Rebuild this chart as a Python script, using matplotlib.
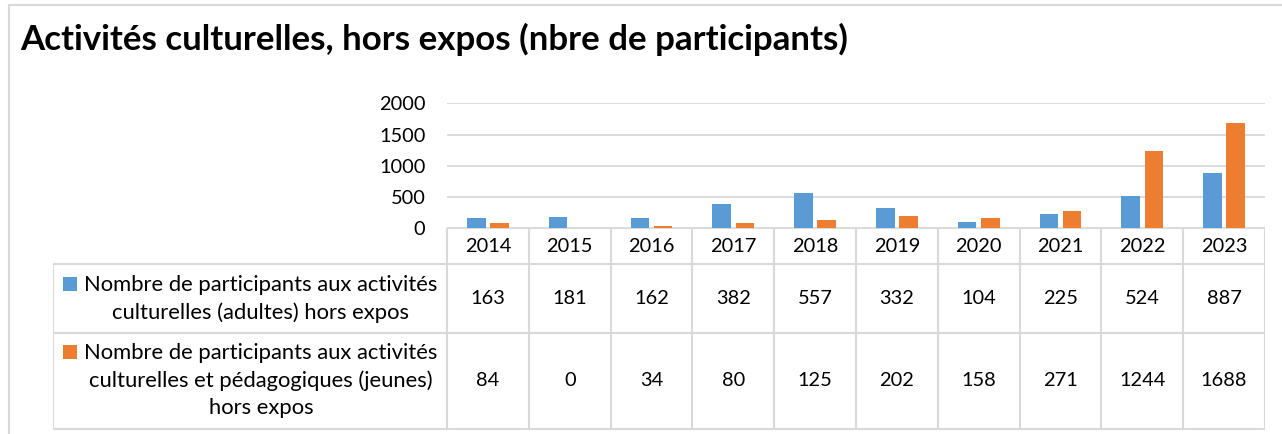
import matplotlib
matplotlib.use("Agg")
import matplotlib.pyplot as plt
from matplotlib.patches import Rectangle
from matplotlib.lines import Line2D

# ---------------- data ----------------
years = ["2014", "2015", "2016", "2017", "2018", "2019", "2020", "2021", "2022", "2023"]
adultes = [163, 181, 162, 382, 557, 332, 104, 225, 524, 887]
jeunes = [84, 0, 34, 80, 125, 202, 158, 271, 1244, 1688]
series_labels = [
    "Nombre de participants aux activités\nculturelles (adultes) hors expos",
    "Nombre de participants aux activités\nculturelles et pédagogiques (jeunes)\nhors expos",
]
title = "Activités culturelles, hors expos (nbre de participants)"
yticks = [0, 500, 1000, 1500, 2000]
colors = ["#5B9BD5", "#ED7D31"]

FONT = "Lato"
GRID = "#D9D9D9"
W, H = 1282, 434

fig = plt.figure(figsize=(W / 100, H / 100), dpi=100)
renderer = fig.canvas.get_renderer()


def fit_size(s, target_px, weight="normal"):
    t = fig.text(0, 0, s, fontsize=10, family=FONT, weight=weight)
    w = t.get_window_extent(renderer).width
    t.remove()
    return 10 * target_px / w


fs_title = fit_size(title, 832, "bold")
fs_lab = fit_size("Nombre de participants aux activités", 355)
fs_num = fit_size("2014", 46.5)


def fx(x):
    return x / W


def fy(y):
    return 1 - y / H


# chart-area border (left + top)
fig.add_artist(Line2D([fx(8.5), fx(8.5)], [fy(5), 0], color=GRID, lw=1.5))
fig.add_artist(Line2D([fx(8.5), 1], [fy(5), fy(5)], color=GRID, lw=1.5))

# title
fig.text(fx(20), fy(50), title, fontsize=fs_title, family=FONT, weight="bold",
         ha="left", va="baseline", color="#000000")

# ---------------- bar chart ----------------
L, R, T, B = 447, 1265, 103.3, 228.3
ax = fig.add_axes([fx(L), fy(B), (R - L) / W, (B - T) / H])
x = list(range(len(years)))
bw = 0.227
off = 0.141
ax.bar([i - off for i in x], adultes, width=bw, color=colors[0], zorder=3)
ax.bar([i + off for i in x], jeunes, width=bw, color=colors[1], zorder=3)
ax.set_xlim(-0.5, len(years) - 0.5)
ax.set_ylim(0, 2000)
ax.set_yticks(yticks)
ax.set_yticklabels([str(v) for v in yticks], fontsize=fs_num, family=FONT)
ax.set_xticks([])
ax.tick_params(axis="y", length=0, pad=15.5)
ax.yaxis.grid(True, color=GRID, lw=1.3, zorder=0)
ax.set_axisbelow(True)
for s in ax.spines.values():
    s.set_visible(False)
ax.patch.set_alpha(0)

# ---------------- data table ----------------
TL, TB = 53, 429.5
colw = (R - L) / len(years)
x_left = -0.5 - (L - TL) / colw
tax = fig.add_axes([fx(TL), fy(TB), (R - TL) / W, (TB - B) / H])
tax.set_xlim(x_left, len(years) - 0.5)
tax.set_ylim(TB, B)
tax.axis("off")
rows = [B, 264, 333, TB]
lk = dict(color=GRID, lw=1.5, solid_capstyle="projecting")
tax.plot([-0.5, len(years) - 0.5], [rows[0], rows[0]], **lk)
for yv in rows[1:]:
    tax.plot([x_left, len(years) - 0.5], [yv, yv], **lk)
for k in range(len(years) + 1):
    tax.plot([k - 0.5, k - 0.5], [rows[0], rows[-1]], **lk)
tax.plot([x_left, x_left], [rows[1], rows[-1]], **lk)

for i, yr in enumerate(years):
    tax.text(i, 246.5, yr, ha="center", va="center", fontsize=fs_num, family=FONT)
    tax.text(i, 299, str(adultes[i]), ha="center", va="center", fontsize=fs_num, family=FONT)
    tax.text(i, 381, str(jeunes[i]), ha="center", va="center", fontsize=fs_num, family=FONT)

lab_cx = x_left + (261 - TL) / colw
lab_cy = [299, 380.5]
sq_y = [283.7, 351.5]
for j, lab in enumerate(series_labels):
    tax.text(lab_cx, lab_cy[j], lab, ha="center", va="center", multialignment="center",
             fontsize=fs_lab, family=FONT, linespacing=1.45)
    tax.add_patch(Rectangle((x_left + (63 - TL) / colw, sq_y[j] + 7), 14 / colw, -14,
                            color=colors[j], lw=0))

fig.savefig("out.png", dpi=100)
